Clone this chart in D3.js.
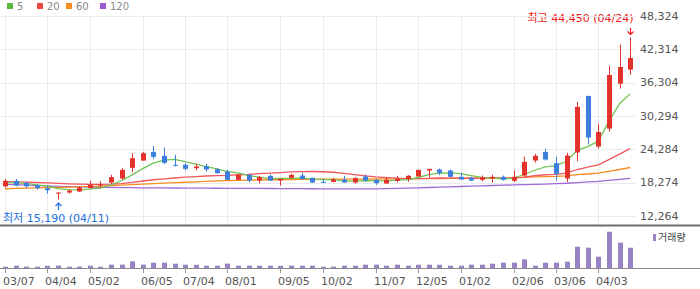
<!DOCTYPE html>
<html>
<head>
<meta charset="utf-8">
<script src="https://cdn.jsdelivr.net/npm/d3@7"></script>
<style>
  body { margin: 0; background: #fff; }
  svg { display: block; }
</style>
</head>
<body>
<div id="chart"></div>
<script>
// weekly candles, 60 weeks
const dates = ["03/07","03/14","03/21","03/28","04/04","04/11","04/18","04/25","05/02","05/09",
  "05/16","05/23","05/30","06/05","06/13","06/20","06/27","07/04","07/11","07/18",
  "07/25","08/01","08/08","08/16","08/22","08/29","09/05","09/13","09/19","09/26",
  "10/02","10/11","10/17","10/24","10/31","11/07","11/14","11/21","11/28","12/05",
  "12/12","12/19","12/26","01/02","01/09","01/16","01/25","01/30","02/06","02/13",
  "02/20","02/27","03/06","03/13","03/20","03/27","04/03","04/10","04/17","04/24"]

const opens = [17583,18575,18214,17800,17247,16300,16460,16640,17247,17730,
  18270,18990,20920,22230,23800,23080,21460,21460,20860,21220,
  20680,20260,18755,19656,18630,19480,18630,19120,19530,19120,
  18390,18390,18810,18270,19360,18755,18090,18570,18935,19360,
  20440,20620,20440,19300,19120,18755,19000,19300,18570,19530,
  22240,23800,21760,18990,23680,33900,24760,28000,36120,38640]

const highs = [18935,18935,18450,17980,17583,16500,16997,17583,18575,18510,
  19656,20860,23620,23800,24880,24580,23260,21760,21640,21640,
  20860,20560,19840,19840,19480,19720,18935,19840,20080,19120,
  18870,19120,19480,19240,19720,18935,19240,19480,19600,20560,
  20740,20800,20620,20020,19300,19530,19656,19530,20440,22900,
  23440,24340,22900,23620,32820,33900,28850,39360,43150,44450]

const lows = [17367,17583,17247,16997,16280,15190,16280,16580,17247,17247,
  17980,18755,20140,22230,22540,21580,21160,20440,20500,20260,
  19840,18755,18630,18270,18090,18510,17730,18990,18755,18270,
  18150,18270,18270,18090,18390,17853,18090,18270,18390,19360,
  19180,19600,19240,18810,18510,18510,18270,18630,18330,19300,
  21870,22230,18630,18390,22120,25120,24400,27460,35220,37740]

const closes = [18575,17727,17583,17247,16887,16450,16820,17367,17853,17910,
  19240,20558,22660,23560,22900,21820,21280,20740,21160,20620,
  19960,18755,19656,18630,19240,18630,18935,19656,18935,18270,
  18270,18810,18270,19060,18630,18150,18755,18935,19480,20560,
  20740,20020,19300,18810,18630,19240,19300,18755,19300,22000,
  23080,22420,19840,23140,31920,26380,27400,37680,39120,40750]

const volumes = [130000,230000,140000,130000,220000,240000,130000,140000,230000,130000,
  330000,340000,670000,330000,530000,540000,430000,330000,320000,230000,
  230000,440000,230000,240000,230000,230000,220000,240000,230000,230000,
  130000,140000,230000,230000,330000,330000,230000,330000,230000,330000,
  330000,320000,230000,230000,330000,330000,430000,530000,530000,870000,
  230000,530000,540000,630000,2130000,2030000,1130000,3630000,2530000,2030000]

const ma5 = [18300,18200,18100,17850,17604,17179,16997,16954,17075,17280,
  17838,18586,19644,20786,21784,22300,22444,22060,21580,21124,
  20752,20247,20030,19524,19248,18982,19018,19018,19079,18885,
  18813,18788,18511,18536,18608,18584,18573,18706,18790,19176,
  19694,19947,20020,19886,19500,19200,19056,18947,19045,19719,
  20487,21111,21328,22096,24080,24740,25736,29304,32500,34266]

const ma20 = [18409,18375,18334,18277,18201,18103,18024,17973,17945,17921,
  17963,18071,18284,18542,18767,18938,19082,19239,19337,19448,
  19517,19569,19672,19741,19859,19968,20074,20188,20242,20260,
  20212,20124,19905,19680,19466,19283,19157,19066,18982,18979,
  19018,19082,19064,19073,19042,19073,19091,19046,19064,19251,
  19491,19672,19750,19954,20619,21030,21463,22400,23382,24391]

const ma60 = [17150,17200,17250,17300,17350,17400,17450,17500,17560,17630,
  17710,17800,17890,17980,18060,18150,18240,18320,18400,18480,
  18550,18610,18660,18700,18740,18770,18790,18810,18830,18850,
  18860,18870,18880,18890,18900,18910,18920,18930,18940,18960,
  18980,19000,19020,19040,19060,19080,19100,19120,19140,19200,
  19280,19350,19380,19460,19680,19810,19960,20280,20620,20980]

const ma120 = [17950,17880,17800,17720,17650,17580,17520,17470,17430,17400,
  17380,17360,17340,17320,17300,17290,17280,17270,17260,17250,
  17240,17230,17220,17210,17200,17190,17180,17170,17160,17150,
  17140,17130,17120,17115,17120,17140,17170,17210,17260,17310,
  17370,17430,17490,17550,17610,17670,17730,17790,17840,17890,
  17940,17990,18060,18140,18260,18370,18470,18640,18830,19030]

const yTicks = [12264,18274,24284,30294,36304,42314,48324]
const tickDates = ["03/07","04/04","05/02","06/05","07/04","08/01","09/05","10/02",
  "11/07","12/05","01/02","02/06","03/06","04/03"]

const maNames = ["5","20","60","120"]
const maColors = ["#72c455","#f0585e","#f68d22","#a06bd6"]
const legendColors = ["#5cb83c","#ec4646","#f68b1f","#9b59d0"]

const width = 700, height = 289
const plotRight = 635.4
const priceTop = 16, priceBottom = 225, volBottom = 268

const svg = d3.select("#chart").append("svg")
    .attr("width", width)
    .attr("height", height)
    .attr("font-family", "'DejaVu Sans', 'Noto Sans CJK KR', sans-serif")

const x = d3.scaleBand().domain(dates).range([-0.3, plotRight])
const cx = d => x(d) + x.bandwidth() / 2
const y = d3.scaleLinear().domain([yTicks[0], yTicks[yTicks.length - 1]]).range([215.8, priceTop])
const yv = d3.scaleLinear().domain([0, 4000000]).range([volBottom, 228])

// grid
svg.append("g")
  .selectAll("line")
  .data(yTicks)
  .join("line")
    .attr("x1", 0).attr("x2", plotRight)
    .attr("y1", d => Math.round(y(d)) + 0.5).attr("y2", d => Math.round(y(d)) + 0.5)
    .attr("stroke", "#ebebeb")

svg.append("g")
  .selectAll("line")
  .data(tickDates)
  .join("line")
    .attr("x1", d => Math.round(cx(d)) + 0.5).attr("x2", d => Math.round(cx(d)) + 0.5)
    .attr("y1", priceTop).attr("y2", priceBottom)
    .attr("stroke", "#ebebeb")

// y labels
svg.append("g")
  .selectAll("text")
  .data(yTicks)
  .join("text")
    .attr("x", 640)
    .attr("y", d => y(d))
    .attr("dy", "0.35em")
    .attr("font-size", 11)
    .attr("fill", "#555")
    .text(d => d3.format(",")(d))

// moving averages
const mas = [ma5, ma20, ma60, ma120]
const line = d3.line().x((d, i) => cx(dates[i])).y(d => y(d))
svg.append("g")
  .selectAll("path")
  .data(mas.slice().reverse())
  .join("path")
    .attr("fill", "none")
    .attr("stroke", (d, i) => maColors[3 - i])
    .attr("stroke-width", 1.3)
    .attr("d", line)

// candles
const idx = d3.range(dates.length)
const up = i => closes[i] >= opens[i]
const candles = svg.append("g")
  .selectAll("g")
  .data(idx)
  .join("g")
    .attr("fill", i => up(i) ? "#e1322b" : "#3c7fdf")
    .attr("stroke", i => up(i) ? "#e1322b" : "#3c7fdf")

candles.append("line")
    .attr("x1", i => Math.round(cx(dates[i])) + 0.5)
    .attr("x2", i => Math.round(cx(dates[i])) + 0.5)
    .attr("y1", i => y(highs[i]))
    .attr("y2", i => y(lows[i]))

candles.append("rect")
    .attr("stroke", "none")
    .attr("x", i => Math.round(cx(dates[i])) - 2)
    .attr("width", 5)
    .attr("y", i => y(Math.max(opens[i], closes[i])))
    .attr("height", i => Math.max(1, y(Math.min(opens[i], closes[i])) - y(Math.max(opens[i], closes[i]))))

// high / low annotations
const hi = d3.maxIndex(highs), lo = d3.minIndex(lows)
const hx = Math.round(cx(dates[hi])) + 0.5
svg.append("text")
    .attr("x", hx + 3)
    .attr("y", 22)
    .attr("text-anchor", "end")
    .attr("font-size", 11)
    .attr("fill", "#f01818")
    .text(`최고 ${d3.format(",")(highs[hi])} (${dates[hi]})`)
svg.append("path")
    .attr("d", `M${hx},28V34.5M${hx - 3},31.5L${hx},34.5L${hx + 3},31.5`)
    .attr("fill", "none")
    .attr("stroke", "#f01818")
    .attr("stroke-width", 1.2)

const lx = Math.round(cx(dates[lo])) + 0.5
svg.append("path")
    .attr("d", `M${lx},210V203M${lx - 3},206L${lx},203L${lx + 3},206`)
    .attr("fill", "none")
    .attr("stroke", "#2470e0")
    .attr("stroke-width", 1.2)
svg.append("text")
    .attr("x", 3)
    .attr("y", 222)
    .attr("font-size", 11)
    .attr("fill", "#2470e0")
    .text(`최저 ${d3.format(",")(lows[lo])} (${dates[lo]})`)

// pane separators
svg.append("line")
    .attr("x1", 0).attr("x2", width)
    .attr("y1", 225.5).attr("y2", 225.5)
    .attr("stroke", "#6f6f6f").attr("stroke-width", 2)
svg.append("line")
    .attr("x1", 0).attr("x2", width)
    .attr("y1", volBottom + 0.5).attr("y2", volBottom + 0.5)
    .attr("stroke", "#8a8a8a")

// volume
svg.append("g")
  .selectAll("rect")
  .data(volumes)
  .join("rect")
    .attr("fill", "#9884c4")
    .attr("x", (d, i) => Math.round(cx(dates[i])) - 2)
    .attr("width", 5)
    .attr("y", d => yv(d))
    .attr("height", d => volBottom - yv(d))

svg.append("rect")
    .attr("x", 653).attr("y", 234).attr("width", 3).attr("height", 7)
    .attr("fill", "#9884c4")
svg.append("text")
    .attr("x", 658).attr("y", 241)
    .attr("font-size", 10)
    .attr("fill", "#444")
    .text("거래량")

// x axis
const xa = svg.append("g")
  .selectAll("g")
  .data(tickDates)
  .join("g")
    .attr("transform", d => `translate(${Math.round(cx(d)) + 0.5},${volBottom})`)
xa.append("line").attr("y1", 0).attr("y2", 5).attr("stroke", "#999")
xa.append("text")
    .attr("x", -2.5)
    .attr("y", 17)
    .attr("font-size", 11)
    .attr("fill", "#555")
    .text(d => d)

// legend
const lg = svg.append("g")
  .selectAll("g")
  .data(maNames)
  .join("g")
    .attr("transform", (d, i) => `translate(${[7, 37, 66, 100][i]},3)`)
lg.append("rect").attr("width", 6).attr("height", 6).attr("fill", (d, i) => legendColors[i])
lg.append("text")
    .attr("x", 10).attr("y", 6)
    .attr("dy", "0.05em")
    .attr("font-size", 10)
    .attr("fill", "#888")
    .text(d => d)

svg.append("line")
    .attr("x1", 0).attr("x2", plotRight)
    .attr("y1", 16.5).attr("y2", 16.5)
    .attr("stroke", "#ebebeb")
</script>
</body>
</html>
